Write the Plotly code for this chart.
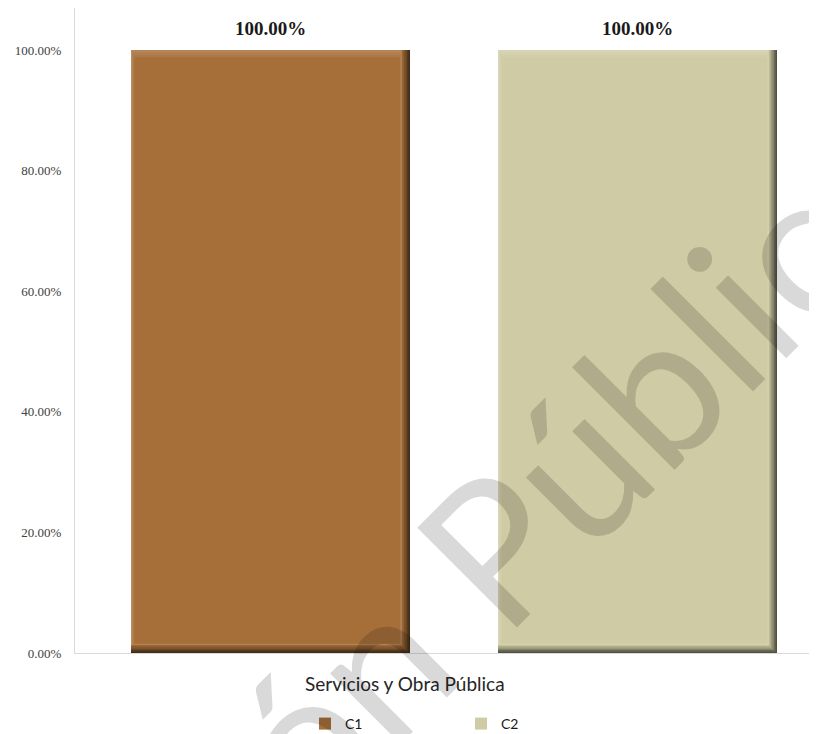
import plotly.graph_objects as go

# ---------------- data ----------------
categories = ["Servicios y Obra Pública"]
series_names = ["C1", "C2"]
series_values = [[1.0], [1.0]]          # shares (1.0 = 100 %)
series_colors = ["#A66F3A", "#CFCBA4"]
y_tick_values = [0.0, 0.2, 0.4, 0.6, 0.8, 1.0]
watermark_text = "Versión Pública"

# ---------------- layout constants ----------------
# The page body has an 8px margin, so the figure is drawn 8px in/down.
OFF = 8
W, H = 817 - OFF, 734 - OFF
ML, MR, MT = 75 - OFF, 0, 0
PLOT_BOTTOM = 653 - OFF                # y of the category axis in figure px
PLOT_H = PLOT_BOTTOM - MT
MB = H - PLOT_BOTTOM
PLOT_W = W - ML - MR
PX_PER_UNIT_Y = 603.0                  # pixels for 100 %
Y_MAX = PLOT_H / PX_PER_UNIT_Y
CAT_PX = 758.0                         # pixel width of one category slot
CAT_CENTER_PX = 454 - OFF              # category centre in figure px
X_MIN = -(CAT_CENTER_PX - ML) / CAT_PX
X_RANGE = [X_MIN, X_MIN + PLOT_W / CAT_PX]
PX_X = 1.0 / CAT_PX
PX_Y = 1.0 / PX_PER_UNIT_Y

BAR_W_PX = 279
BAR_PITCH_PX = 367
n_series = len(series_names)
bar_w = BAR_W_PX * PX_X


def px(x_ref, y_ref):
    """reference pixel -> paper coordinates"""
    return ((x_ref - OFF - ML) / PLOT_W, (PLOT_BOTTOM - (y_ref - OFF)) / PLOT_H)


def mix(hex_color, amount):
    h = hex_color.lstrip("#")
    r, g, b = (int(h[i:i + 2], 16) for i in (0, 2, 4))
    if amount < 0:
        f = 1 + amount
        r, g, b = r * f, g * f, b * f
    else:
        r, g, b = r + (255 - r) * amount, g + (255 - g) * amount, b + (255 - b) * amount
    return "rgb(%d,%d,%d)" % (round(r), round(g), round(b))


# bevel layers: (inset left, inset right, inset bottom, inset top) in px, shade
bevel = [
    (0, 0, 0, 0, -0.60),
    (0, 1.5, 1.5, 0, -0.48),
    (0, 3, 3, 0, -0.36),
    (0, 4.5, 4, 0, -0.25),
    (0, 6, 5.5, 0, -0.14),
    (0, 7.5, 7, 0, -0.05),
    (0, 8.5, 8, 0, 0.22),
    (1, 8.5, 8, 0, 0.16),
    (1.5, 9, 8.5, 2.5, 0.11),
    (2.5, 9.5, 9, 5, 0.06),
    (3.5, 10, 9.5, 7.5, 0.0),
]

fig = go.Figure()
label_annotations = []
for i, (name, vals, col) in enumerate(zip(series_names, series_values, series_colors)):
    off = (i - (n_series - 1) / 2) * BAR_PITCH_PX * PX_X - bar_w / 2
    for k, (dl, dr, db, dt, shade) in enumerate(bevel):
        last = k == len(bevel) - 1
        fig.add_trace(go.Bar(
            x=categories,
            y=[v - (db + dt) * PX_Y for v in vals],
            base=[db * PX_Y for _ in vals],
            offset=off + dl * PX_X,
            width=bar_w - (dl + dr) * PX_X,
            marker=dict(color=col if last else mix(col, shade), line=dict(width=0)),
            name=name,
            legendgroup=name,
            showlegend=last,
            hoverinfo="skip",
        ))
    for v in vals:
        label_annotations.append(dict(
            x=off + bar_w / 2, y=v, xref="x", yref="y",
            text="<b>%s</b>" % format(v, ".2%"),
            showarrow=False, yanchor="bottom", yshift=9,
            font=dict(family="Liberation Serif", size=19, color="#1a1a1a"),
        ))

cat_x, cat_y = px(405, 683)
wm_x, wm_y = px(424, 613)
leg_x, leg_y = px(305, 724)

annotations = label_annotations + [
    dict(
        x=cat_x, y=cat_y, xref="paper", yref="paper",
        xanchor="center", yanchor="middle",
        text=categories[0], showarrow=False,
        font=dict(family="Lato", size=19, color="#262626"),
    ),
    dict(
        x=wm_x, y=wm_y, xref="paper", yref="paper",
        xanchor="center", yanchor="middle",
        text=watermark_text, showarrow=False, textangle=-45,
        font=dict(family="Lato", size=197, color="rgba(0,0,0,0.15)"),
    ),
]

fig.update_layout(
    width=W, height=H,
    margin=dict(l=ML, r=MR, t=MT, b=MB, pad=0, autoexpand=False),
    paper_bgcolor="white", plot_bgcolor="white",
    barmode="overlay",
    showlegend=True,
    legend=dict(
        orientation="h", x=leg_x, xanchor="left",
        y=leg_y, yanchor="middle",
        entrywidth=111, entrywidthmode="pixels",
        font=dict(family="Lato", size=14, color="#1a1a1a"),
        bgcolor="rgba(0,0,0,0)",
    ),
    xaxis=dict(
        type="category", range=X_RANGE, showticklabels=False,
        showline=True, linecolor="#d9d9d9", linewidth=1,
        showgrid=False, zeroline=False, ticks="",
        fixedrange=True,
    ),
    yaxis=dict(
        range=[0, Y_MAX], tickvals=y_tick_values, tickformat=".2%",
        showline=True, linecolor="#d9d9d9", linewidth=1,
        showgrid=False, zeroline=False, ticks="", ticklabelstandoff=10,
        tickfont=dict(family="Liberation Serif", size=13, color="#404040"),
        fixedrange=True,
    ),
    annotations=annotations,
)

fig.write_html("out.html")
